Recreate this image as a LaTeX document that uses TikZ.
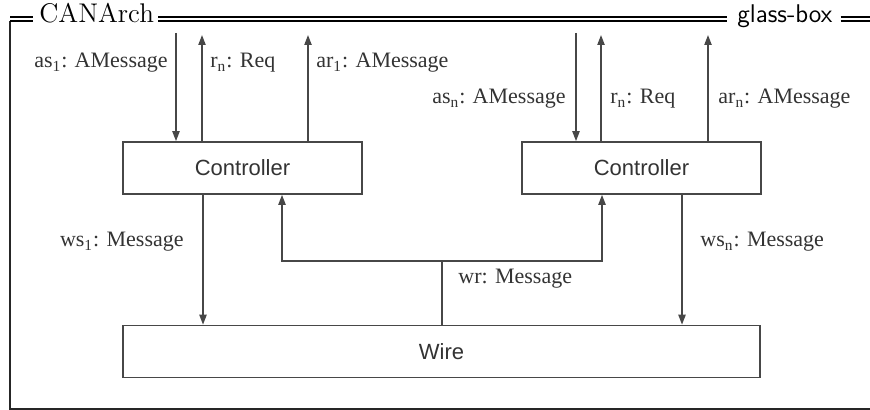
\documentclass[tikz,border=0pt]{standalone}
\usepackage{fontspec}
\newfontfamily\labelfont{Liberation Serif}
\newfontfamily\boxfont{Liberation Sans}
\usetikzlibrary{arrows.meta}

\definecolor{linegray}{HTML}{474747}
\definecolor{textgray}{HTML}{333333}

\tikzset{
  unit/.style={draw=linegray,line width=0.8pt,minimum width=119.5pt,
    minimum height=26pt,inner sep=0pt,text=textgray,
    font=\boxfont\fontsize{11}{13}\selectfont},
  sig/.style={draw=linegray,line width=0.8pt,
    -{Triangle[length=5pt,width=3.6pt]}},
  lbl/.style={inner sep=0pt,text=textgray,
    font=\labelfont\fontsize{11}{13}\selectfont},
  title/.style={inner sep=0pt,font=\fontsize{13.5}{16}\selectfont}
}

\begin{document}
\begin{tikzpicture}[x=0.5pt,y=-0.5pt]
\useasboundingbox (0,0) rectangle (870,410);

% frame
\node[title,anchor=base west] (arch) at (39,23) {CANArch};
\node[title,anchor=base west,font=\sffamily\fontsize{12.8}{15}\selectfont] (mode) at (737,23) {glass-box};
\draw[line width=0.8pt,draw=black!85] (10,21) -- (10,409) -- (870,409);
\foreach \y in {17,21}
  \draw[line width=0.6pt] (10,\y) -- (33,\y)
    ([xshift=2pt]arch.east |- 0,\y) -- ([xshift=-5pt]mode.west |- 0,\y)
    ([xshift=4pt]mode.east |- 0,\y) -- (870,\y);

% components
\node[unit] (ctrlA) at (242.5,168) {Controller};
\node[unit] (ctrlB) at (641.5,168) {Controller};
\node[unit,minimum width=318.5pt] (wire) at (441.5,351.5) {Wire};

% free ends
\coordinate (asA) at (176,33);
\coordinate (rA) at (202,35);
\coordinate (arA) at (308,35);
\coordinate (asB) at (576,33);
\coordinate (rB) at (601,35);
\coordinate (arB) at (708,35);
\coordinate (wsA) at (203,250);
\coordinate (wsB) at (682,250);
\coordinate (wrJ) at (442,261);
\coordinate (wrA) at (282,261);
\coordinate (wrB) at (602,261);

% ports of the controllers
\draw[sig] (asA) -- (asA |- ctrlA.north);
\draw[sig] (rA |- ctrlA.north) -- (rA);
\draw[sig] (arA |- ctrlA.north) -- (arA);
\draw[sig] (asB) -- (asB |- ctrlB.north);
\draw[sig] (rB |- ctrlB.north) -- (rB);
\draw[sig] (arB |- ctrlB.north) -- (arB);

% to and from the wire
\draw[sig] (wsA |- ctrlA.south) -- (wsA |- wire.north);
\draw[sig] (wsB |- ctrlB.south) -- (wsB |- wire.north);
\draw[draw=linegray,line width=0.8pt] (wrJ |- wire.north) -- (wrJ);
\draw[sig] (wrJ) -- (wrA) -- (wrA |- ctrlA.south);
\draw[sig] (wrJ) -- (wrB) -- (wrB |- ctrlB.south);

% labels
\node[lbl,anchor=east] (asAl) at (168,63) {as\textsubscript{1}: AMessage};
\node[lbl,anchor=west] (rAl) at (210,63) {r\textsubscript{n}: Req};
\node[lbl,anchor=west] (arAl) at (316,63) {ar\textsubscript{1}: AMessage};
\node[lbl,anchor=east] (asBl) at (566,99) {as\textsubscript{n}: AMessage};
\node[lbl,anchor=west] (rBl) at (610,99) {r\textsubscript{n}: Req};
\node[lbl,anchor=west] (arBl) at (718,99) {ar\textsubscript{n}: AMessage};
\node[lbl,anchor=east] (wsAl) at (184,242) {ws\textsubscript{1}: Message};
\node[lbl,anchor=west] (wsBl) at (700,242) {ws\textsubscript{n}: Message};
\node[lbl,anchor=west] (wrl) at (458,279) {wr: Message};
\end{tikzpicture}
\end{document}
